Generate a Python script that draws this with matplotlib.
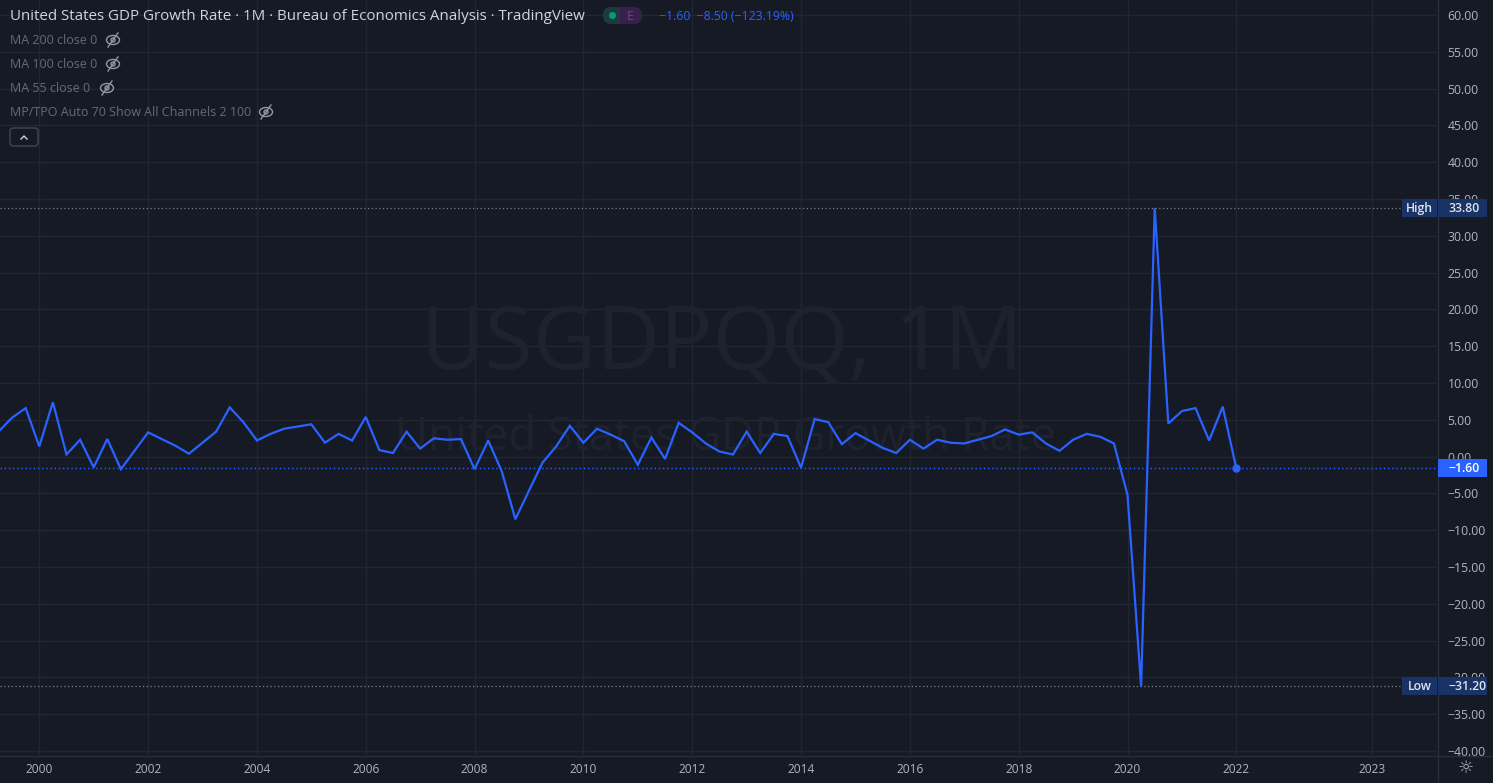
import matplotlib
matplotlib.use("Agg")
import matplotlib.pyplot as plt
from matplotlib.patches import FancyBboxPatch, Rectangle, Ellipse
from matplotlib.lines import Line2D

# ---------------- data ----------------
start_year = 1999
start_quarter = 2  # first point: 1999 Q2
gdp_growth = [
    3.4, 5.3, 6.6,                 # 1999 Q2-Q4
    1.4, 7.4, 0.3, 2.3,            # 2000
    -1.45, 2.4, -1.7, 0.8,         # 2001
    3.3, 2.4, 1.5, 0.4,            # 2002
    1.9, 3.4, 6.7, 4.7,            # 2003
    2.2, 3.1, 3.8, 4.1,            # 2004
    4.4, 1.9, 3.1, 2.2,            # 2005
    5.4, 0.9, 0.5, 3.4,            # 2006
    1.1, 2.5, 2.3, 2.4,            # 2007
    -1.7, 2.2, -2.0, -8.5,         # 2008
    -4.6, -0.8, 1.4, 4.2,          # 2009
    1.9, 3.8, 3.0, 2.1,            # 2010
    -1.1, 2.6, -0.3, 4.6,          # 2011
    3.3, 1.8, 0.7, 0.3,            # 2012
    3.4, 0.5, 3.1, 2.8,            # 2013
    -1.5, 5.1, 4.7, 1.7,           # 2014
    3.2, 2.2, 1.2, 0.5,            # 2015
    2.3, 1.1, 2.3, 1.9,            # 2016
    1.8, 2.3, 2.8, 3.7,            # 2017
    3.0, 3.3, 1.8, 0.8,            # 2018
    2.3, 3.1, 2.7, 1.8,            # 2019
    -5.2, -31.2, 33.8, 4.5,        # 2020
    6.2, 6.6, 2.2, 6.8,            # 2021
    -1.6,                          # 2022 Q1
]
year_labels = ["2000", "2002", "2004", "2006", "2008", "2010", "2012",
               "2014", "2016", "2018", "2020", "2022"]
future_label = "2023"
future_label_pos = 2024.49
price_ticks = list(range(-40, 61, 5))
high_value = 33.80
low_value = -31.20
last_value = -1.60
change_value = -8.50
change_pct = -123.19

title_text = "United States GDP Growth Rate · 1M · Bureau of Economics Analysis · TradingView"
indicator_lines = ["MA 200 close 0", "MA 100 close 0", "MA 55 close 0",
                   "MP/TPO Auto 70 Show All Channels 2 100"]
watermark_main = "USGDPQQ, 1M"
watermark_sub = "United States GDP Growth Rate"

# ---------------- style ----------------
W, H = 1493, 783
BG = "#161a25"
GRID = "#222631"
BLUE = "#2962ff"
AXTXT = "#b2b5be"
SEP = "#2a2e39"
FONT = "Open Sans"

def mm(v):
    s = f"{abs(v):.2f}"
    return ("\u2212" + s) if v < 0 else s

x_vals = []
for i in range(len(gdp_growth)):
    q = start_quarter - 1 + i
    x_vals.append(start_year + q / 4.0)

fig = plt.figure(figsize=(W / 100, H / 100), dpi=100, facecolor=BG)

plot_right = 1437
plot_bottom = 755
ax = fig.add_axes([0, (H - plot_bottom) / H, plot_right / W, plot_bottom / H])
ax.set_facecolor(BG)
ax.set_xlim(1999.278, 2025.688)
ax.set_ylim(-40.53, 62.05)

for s in ax.spines.values():
    s.set_visible(False)

# grid
xt = [float(y) for y in year_labels] + [future_label_pos]
ax.set_xticks(xt)
ax.set_xticklabels(year_labels + [future_label], fontsize=8.6, color=AXTXT,
                   family=FONT)
ax.set_yticks(price_ticks)
ax.set_yticklabels([mm(v) for v in price_ticks], fontsize=8.8, color=AXTXT,
                   family=FONT)
ax.yaxis.tick_right()
ax.tick_params(axis="both", length=0)
ax.tick_params(axis="y", pad=7.5)
ax.tick_params(axis="x", pad=5.5)
ax.grid(True, color=GRID, linewidth=1.0, zorder=0)
ax.set_axisbelow(True)

# watermark
def fx(x):
    return x / W

def fy(y):
    return 1 - y / H

ax.text(fx(722), fy(369), watermark_main, transform=fig.transFigure,
        ha="center", va="baseline", fontsize=63, color="#1e222d",
        family=FONT, zorder=1)
ax.text(fx(725), fy(450), watermark_sub, transform=fig.transFigure,
        ha="center", va="baseline", fontsize=32.5, color="#1e222d",
        family=FONT, zorder=1)

# high / low / last lines
ax.axhline(high_value, color="#7d808a", linestyle=(0, (1, 2)), linewidth=0.9, zorder=2)
ax.axhline(low_value, color="#7d808a", linestyle=(0, (1, 2)), linewidth=0.9, zorder=2)
ax.axhline(last_value, color=BLUE, linestyle=(0, (1, 2)), linewidth=1.0, zorder=2)

# series
ax.plot(x_vals, gdp_growth, color=BLUE, linewidth=1.6, zorder=3,
        solid_joinstyle="miter")
ax.plot([x_vals[-1]], [gdp_growth[-1]], "o", color=BLUE, markersize=5, zorder=4)

# ---------------- overlay (pixel coordinates) ----------------
ov = fig.add_axes([0, 0, 1, 1])
ov.set_xlim(0, W)
ov.set_ylim(H, 0)
ov.axis("off")
ov.patch.set_visible(False)

# separators
ov.add_line(Line2D([plot_right + 0.5, plot_right + 0.5], [0, H], color=SEP, linewidth=1))
ov.add_line(Line2D([0, W], [plot_bottom + 0.5, plot_bottom + 0.5], color=SEP, linewidth=1))

# price labels
def price_label(y_val, tag, face, txtc):
    disp = ax.transData.transform((ax.get_xlim()[0], y_val))
    ypix = H - disp[1]
    h = 18
    if tag:
        ov.add_patch(Rectangle((1402, ypix - h / 2), 35, h, facecolor=face,
                               edgecolor="none", zorder=5))
        ov.text(1419.5, ypix + 0.5, tag, ha="center", va="center", fontsize=8.8,
                color=txtc, family=FONT, fontweight="semibold", zorder=6)
    ov.add_patch(Rectangle((1438, ypix - h / 2), 49, h, facecolor=face,
                           edgecolor="none", zorder=5))
    ov.text(1448, ypix + 0.5, mm(y_val), ha="left", va="center", fontsize=8.8,
            color=txtc, family=FONT, fontweight="semibold", zorder=6)

price_label(high_value, "High", "#1a3366", "#e0e3eb")
price_label(low_value, "Low", "#1a3366", "#e0e3eb")
price_label(last_value, None, BLUE, "#ffffff")

# header
ov.text(10, 17, title_text, ha="left", va="center", fontsize=10.9,
        color="#d1d4dc", family=FONT)
ov.add_patch(FancyBboxPatch((603, 7), 24, 17, boxstyle="round,pad=0,rounding_size=8",
                            facecolor="#1d3b3b", edgecolor="none"))
ov.add_patch(Rectangle((620, 7), 10, 17, facecolor="#35214a", edgecolor="none"))
ov.add_patch(FancyBboxPatch((620, 7), 22, 17, boxstyle="round,pad=0,rounding_size=8",
                            facecolor="#35214a", edgecolor="none"))
ov.add_patch(Rectangle((620, 7), 8, 17, facecolor="#35214a", edgecolor="none"))
ov.add_patch(Ellipse((612.5, 15.5), 7, 7, facecolor="#089981", edgecolor="none"))
ov.text(630, 16, "E", ha="center", va="center", fontsize=9, color="#9c27b0",
        family=FONT)
ov.text(659, 17, f"{mm(last_value)}  {mm(change_value)} ({mm(change_pct)}%)",
        ha="left", va="center", fontsize=8.8, color=BLUE, family=FONT)

# indicator legend lines with hidden-eye icons
ind_y = [40, 64, 88, 112]
icon_x = [113, 113, 107, 266]
for txt, yy, ix in zip(indicator_lines, ind_y, icon_x):
    ov.text(10, yy, txt, ha="left", va="center", fontsize=9.0, color="#686b76",
            family=FONT)
    ov.add_patch(Ellipse((ix, yy), 13, 9, facecolor="none", edgecolor="#9598a1",
                         linewidth=1.0))
    ov.add_patch(Ellipse((ix, yy), 4, 4, facecolor="none", edgecolor="#9598a1",
                         linewidth=1.0))
    ov.add_line(Line2D([ix - 5, ix + 5], [yy + 7, yy - 7], color="#9598a1",
                       linewidth=1.0))

# collapse button
ov.add_patch(FancyBboxPatch((10, 128), 28, 18, boxstyle="round,pad=0,rounding_size=3",
                            facecolor="none", edgecolor="#434651", linewidth=1.0))
ov.add_line(Line2D([21, 24, 27], [139, 136, 139], color="#d1d4dc", linewidth=1.0))

# settings icon
ov.text(1466, 768, "\u263c", ha="center", va="center", fontsize=13,
        color=AXTXT, family="DejaVu Sans")

fig.savefig("out.png", dpi=100, facecolor=BG)
